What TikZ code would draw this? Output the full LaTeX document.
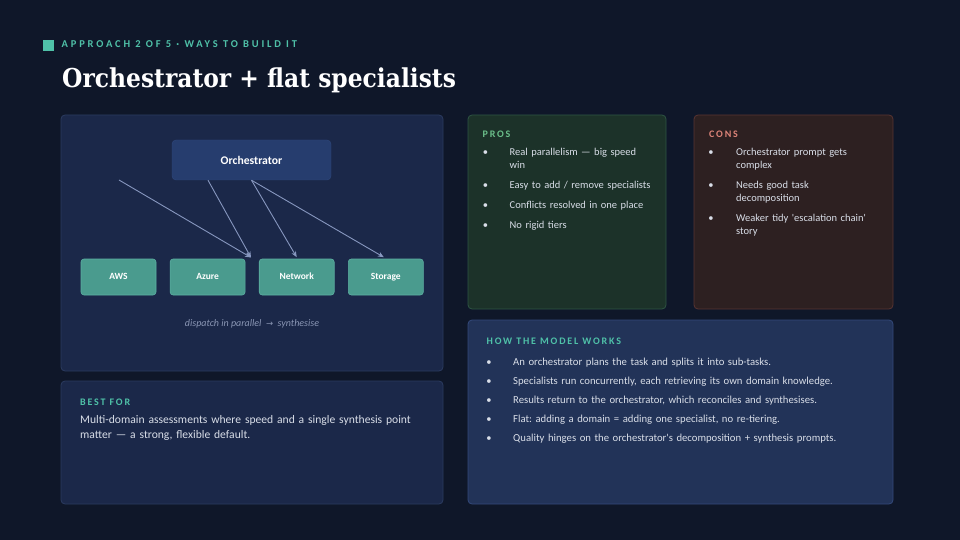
\documentclass[tikz,border=0pt]{standalone}
\usepackage{fontspec}
\setmainfont{Carlito}
\newfontfamily\titlefont[FakeStretch=0.9]{DejaVu Serif}
\newfontfamily\capsfont[LetterSpace=18]{Carlito}
\newfontfamily\kickerfont[LetterSpace=27]{Carlito}
\newfontfamily\symfont{DejaVu Sans}
\usetikzlibrary{positioning, arrows.meta}

\definecolor{bgnavy}{HTML}{0F1729}
\definecolor{panelfill}{HTML}{1B2849}
\definecolor{panelline}{HTML}{2B3B5F}
\definecolor{orchfill}{HTML}{263D6E}
\definecolor{orchline}{HTML}{30497D}
\definecolor{specfill}{HTML}{4A9B8E}
\definecolor{specline}{HTML}{5DB0A2}
\definecolor{arrowgrey}{HTML}{8797BF}
\definecolor{accentteal}{HTML}{4FC1A8}
\definecolor{prosfill}{HTML}{1C3229}
\definecolor{prosline}{HTML}{2E5443}
\definecolor{prosgreen}{HTML}{6BBF8A}
\definecolor{consfill}{HTML}{2D2021}
\definecolor{consline}{HTML}{583432}
\definecolor{consred}{HTML}{DD8479}
\definecolor{howfill}{HTML}{223358}
\definecolor{howline}{HTML}{33497A}
\definecolor{bodytext}{HTML}{D9DEE8}
\definecolor{captiongrey}{HTML}{8A96B4}

\tikzset{
  panel/.style={rounded corners=4pt, line width=0.8pt},
  specbox/.style={draw=specline, fill=specfill, rounded corners=3pt, line width=0.6pt,
    minimum width=75pt, minimum height=36pt, inner sep=0pt, text=white,
    text height=7pt, text depth=2pt, font=\bfseries\fontsize{9.5}{11}\selectfont},
  flow/.style={draw=arrowgrey, line width=0.9pt, -{Stealth[length=6pt,width=5pt]}},
  heading/.style={anchor=base west, inner sep=0pt, font=\capsfont\bfseries\fontsize{10}{12}\selectfont},
  bulletdot/.style={anchor=base, inner sep=0pt, text=bodytext, font=\fontsize{10.5}{13}\selectfont},
  itemtext/.style={anchor=base west, inner sep=0pt, text=bodytext, text width=200pt,
    align=left, font=\frenchspacing\fontsize{10.5}{13}\selectfont}
}

\begin{document}
\begin{tikzpicture}[x=1pt,y=-1pt]
\fill[bgnavy] (0,0) rectangle (960,540);
\useasboundingbox (0,0) rectangle (960,540);

% header
\fill[accentteal] (43,40) rectangle (54,51);
\node[heading, text=accentteal, font=\kickerfont\bfseries\fontsize{10.5}{12}\selectfont]
  (kicker) at (61.5,47.5) {APPROACH 2 OF 5 · WAYS TO BUILD IT};
\node[anchor=base west, inner sep=0pt, text=white, font=\titlefont\bfseries\fontsize{26}{30}\selectfont]
  (title) at (62,88) {Orchestrator + flat specialists};

% panels
\draw[panel, fill=panelfill, draw=panelline] (61,115) rectangle (443,371);
\draw[panel, fill=panelfill, draw=panelline] (61,381) rectangle (443,504);
\draw[panel, fill=prosfill, draw=prosline] (468,115) rectangle (666,309);
\draw[panel, fill=consfill, draw=consline] (694,115) rectangle (893,309);
\draw[panel, fill=howfill, draw=howline] (468,320) rectangle (893,504);

% diagram
\node[draw=orchline, fill=orchfill, rounded corners=4pt, minimum width=159pt, minimum height=40pt,
  text=white, font=\bfseries\fontsize{11.7}{13}\selectfont] (orch) at (251.5,160) {Orchestrator};
\node[specbox] (aws) at (118.5,277) {AWS};
\node[specbox, right=13.5pt of aws] (azure) {Azure};
\node[specbox, right=13.5pt of azure] (network) {Network};
\node[specbox, right=13.5pt of network] (storage) {Storage};

\coordinate (loosestart) at (119,180);
\coordinate (gaptop) at (251,257.5);
\draw[flow] (loosestart) -- (gaptop);
\draw[flow] ([xshift=-43.5pt]orch.south) -- (gaptop);
\draw[flow] (orch.south) -- ([yshift=1.5pt]network.north);
\draw[flow] (orch.south) -- ([xshift=-2pt,yshift=1.5pt]storage.north);

\node[font=\itshape\fontsize{10}{12}\selectfont, text=captiongrey] (caption) at (252,324)
  {dispatch in parallel \ {\symfont\fontsize{8.5}{10}\selectfont →}\ \ synthesise};

% best for
\node[heading, text=accentteal] (besthead) at (80,405) {BEST FOR};
\node[anchor=base west, inner sep=0pt, text=bodytext, text width=360pt, align=left,
  font=\fontsize{11.6}{15.5}\selectfont] (besttext) at (80,423)
  {Multi-domain assessments where speed and a single synthesis point\\matter — a strong, flexible default.};

% pros
\node[heading, text=prosgreen] (proshead) at (482.5,137.5) {PROS};
\foreach \yy/\txt [count=\i] in {155.5/{Real parallelism — big speed\\win},
    188.5/{Easy to add / remove specialists}, 208.5/{Conflicts resolved in one place},
    228.5/{No rigid tiers}} {
  \node[bulletdot] (prosdot\i) at (485.5,\yy) {•};
  \node[itemtext] (prositem\i) at (509.5,\yy) {\txt};
}

% cons
\node[heading, text=consred] (conshead) at (709,137.5) {CONS};
\foreach \yy/\txt [count=\i] in {155.5/{Orchestrator prompt gets\\complex},
    188.5/{Needs good task\\decomposition},
    221.5/{Weaker tidy \textquotesingle escalation chain\textquotesingle\\story}} {
  \node[bulletdot] (consdot\i) at (711,\yy) {•};
  \node[itemtext] (consitem\i) at (736,\yy) {\txt};
}

% how the model works
\node[heading, text=accentteal] (howhead) at (486.5,344) {HOW THE MODEL WORKS};
\foreach \yy/\txt [count=\i] in {365/{An orchestrator plans the task and splits it into sub-tasks.},
    384/{Specialists run concurrently, each retrieving its own domain knowledge.},
    403/{Results return to the orchestrator, which reconciles and synthesises.},
    422/{Flat: adding a domain = adding one specialist, no re-tiering.},
    441.5/{Quality hinges on the orchestrator\textquotesingle s decomposition + synthesis prompts.}} {
  \node[bulletdot] (howdot\i) at (489,\yy) {•};
  \node[itemtext, text width=360pt, font=\frenchspacing\fontsize{10.7}{13}\selectfont]
    (howitem\i) at (513,\yy) {\txt};
}
\end{tikzpicture}
\end{document}
